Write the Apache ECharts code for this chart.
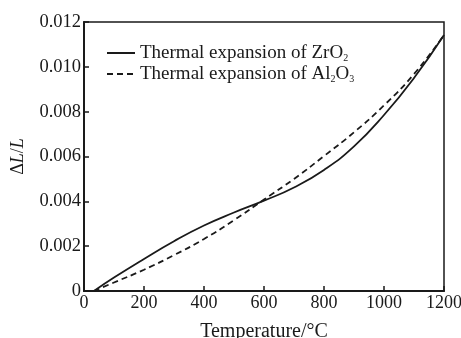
<!DOCTYPE html>
<html>
<head>
<meta charset="utf-8" />
<title>Thermal expansion</title>
<script src="https://cdn.jsdelivr.net/npm/echarts@6/dist/echarts.min.js"></script>
<style>
  html, body { margin: 0; padding: 0; background: #fff; }
  #chart { width: 461px; height: 338px; }
</style>
</head>
<body>
<div id="chart"></div>
<script>
  // 温度 (°C)
  var temps = [33, 100, 200, 300, 400, 500, 600, 700, 800, 900, 1000, 1100, 1200];
  // ZrO2 实线
  var zro2 = [0, 0.0006, 0.00143, 0.00222, 0.00292, 0.0035, 0.00403, 0.00462, 0.0054, 0.00645, 0.00785, 0.0095, 0.01142];
  // Al2O3 虚线
  var al2o3 = [0, 0.00038, 0.00095, 0.0016, 0.00232, 0.00316, 0.00408, 0.005, 0.00602, 0.00708, 0.00828, 0.00968, 0.01142];
  var xTicks = [0, 200, 400, 600, 800, 1000, 1200];
  var yTicks = [0, 0.002, 0.004, 0.006, 0.008, 0.010, 0.012];

  function pairs(ys) {
    return temps.map(function (t, i) { return [t, ys[i]]; });
  }

  var serif = 'Liberation Serif';
  var ink = '#1a1a1a';

  var chart = echarts.init(document.getElementById('chart'));
  var option = {
    animation: false,
    grid: {
      left: 84, right: 17, top: 22, bottom: 47,
      outerBoundsMode: 'none',
      show: true, borderColor: ink, borderWidth: 1.5
    },
    legend: {
      left: 101, top: 39,
      orient: 'vertical',
      itemWidth: 28, itemHeight: 12, itemGap: 2,
      itemStyle: { opacity: 0 },
      data: ['ZrO2', 'Al2O3'],
      formatter: function (name) {
        if (name === 'ZrO2') return '{t|Thermal expansion of ZrO}{s|2}';
        return '{t|Thermal expansion of Al}{s|2}{t|O}{s|3}';
      },
      textStyle: {
        rich: {
          t: { fontFamily: serif, fontSize: 19, color: ink, lineHeight: 18, verticalAlign: 'top' },
          s: { fontFamily: serif, fontSize: 10, color: ink, lineHeight: 10, padding: [9, 0, 0, 0], verticalAlign: 'top' }
        }
      }
    },
    xAxis: {
      type: 'value',
      min: 0, max: 1200, interval: 200,
      name: 'Temperature/°C',
      nameLocation: 'middle',
      nameGap: 31,
      nameTextStyle: { fontFamily: serif, fontSize: 20, color: ink },
      axisLine: { show: true, lineStyle: { color: ink, width: 2 } },
      axisTick: { show: true, inside: true, length: 5, lineStyle: { color: ink, width: 1.5 } },
      axisLabel: {
        fontFamily: serif, fontSize: 18, color: ink, margin: 3,
        formatter: function (v) { return xTicks.indexOf(v) >= 0 ? String(v) : ''; }
      },
      splitLine: { show: false }
    },
    yAxis: {
      type: 'value',
      min: 0, max: 0.012, interval: 0.002,
      name: '{n|Δ}{i|L}{n|/}{i|L}',
      nameLocation: 'middle',
      nameGap: 57,
      nameRotate: 90,
      nameTextStyle: {
        rich: {
          n: { fontFamily: serif, fontSize: 18, color: ink },
          i: { fontFamily: serif, fontSize: 18, color: ink, fontStyle: 'italic' }
        }
      },
      axisLine: { show: true, lineStyle: { color: ink, width: 2 } },
      axisTick: { show: true, inside: true, length: 5, lineStyle: { color: ink, width: 1.5 } },
      axisLabel: {
        fontFamily: serif, fontSize: 18.5, color: ink, margin: 3,
        formatter: function (v) {
          var i = yTicks.indexOf(v);
          if (i < 0) return '';
          return v === 0 ? '0' : v.toFixed(3);
        }
      },
      splitLine: { show: false }
    },
    series: [
      {
        name: 'ZrO2',
        type: 'line',
        smooth: true,
        symbol: 'none',
        data: pairs(zro2),
        lineStyle: { color: ink, width: 1.8, type: 'solid' },
        itemStyle: { color: ink }
      },
      {
        name: 'Al2O3',
        type: 'line',
        smooth: true,
        symbol: 'none',
        data: pairs(al2o3),
        lineStyle: { color: ink, width: 1.8, type: [6, 4] },
        itemStyle: { color: ink }
      }
    ]
  };
  chart.setOption(option);
</script>
</body>
</html>
